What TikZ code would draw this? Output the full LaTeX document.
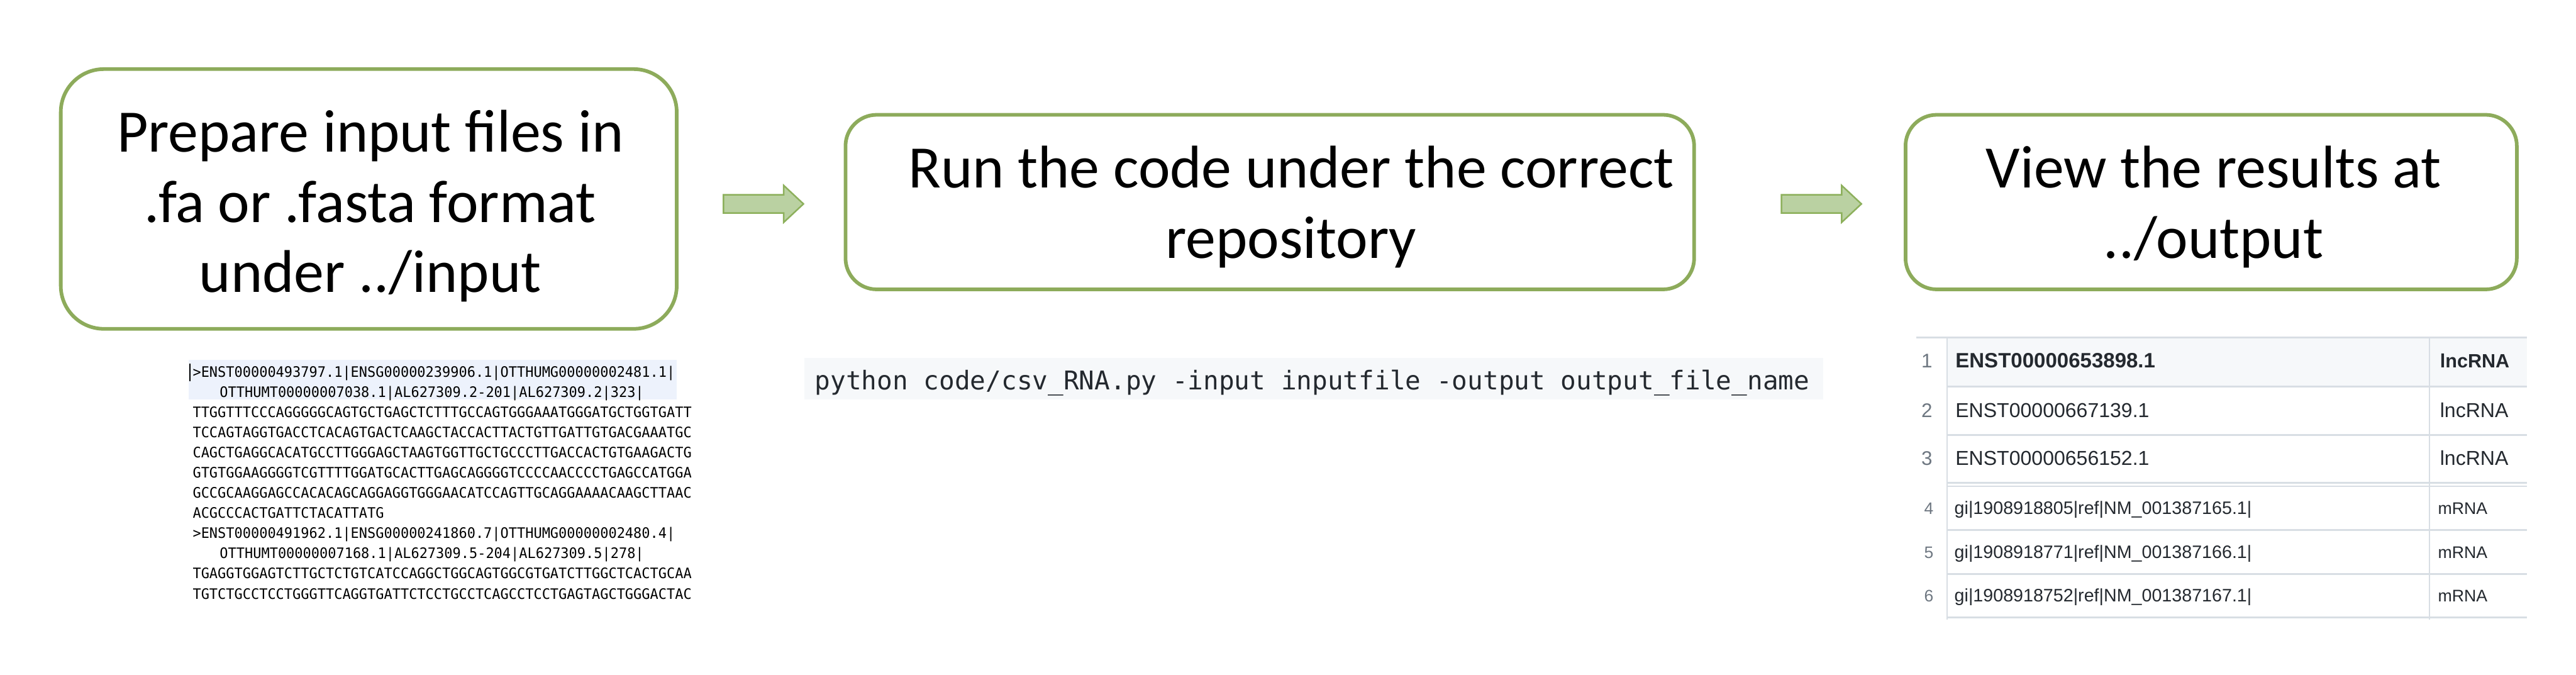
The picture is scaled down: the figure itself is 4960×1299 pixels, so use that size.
\documentclass[tikz,border=0pt]{standalone}
\usepackage{graphicx}
\usepackage{fontspec}
\newfontfamily\carlito{Carlito}
\newfontfamily\dmono{DejaVu Sans Mono}
\newfontfamily\lsans{Liberation Sans}
\definecolor{boxgreen}{RGB}{141,171,91}
\definecolor{arrfill}{RGB}{186,209,162}
\definecolor{arrline}{RGB}{141,176,92}
\definecolor{hl}{RGB}{237,242,252}
\definecolor{codebg}{RGB}{246,248,250}
\definecolor{tline}{RGB}{216,222,228}
\definecolor{ttext}{RGB}{36,41,47}
\definecolor{tnum}{RGB}{110,119,129}
\newcommand{\fx}[1]{\scalebox{0.96}[1]{#1}}
\begin{document}
\begin{tikzpicture}[x=1pt,y=-1pt,
  stepbox/.style={draw=boxgreen, line width=7pt, rounded corners=#1, inner sep=0pt, fill=white},
  boxtxt/.style={anchor=base, inner sep=0pt, font=\carlito\fontsize{116}{135}\selectfont},
  fasta/.style={anchor=base west, inner sep=0pt, font=\dmono\fontsize{27.7}{34}\selectfont, text=black},
  blockarr/.style={fill=arrfill, draw=arrline, line width=3pt, line join=miter},
  tl/.style={draw=tline, line width=3.5pt},
  rowbig/.style={anchor=base west, inner sep=0pt, text=ttext, font=\lsans\fontsize{38.8}{46}\selectfont},
  rowsmall/.style={anchor=base west, inner sep=0pt, text=ttext, font=\lsans\fontsize{34.7}{42}\selectfont},
  numbig/.style={anchor=base, inner sep=0pt, text=tnum, font=\lsans\fontsize{38}{46}\selectfont},
  numsmall/.style={anchor=base, inner sep=0pt, text=tnum, font=\lsans\fontsize{32}{40}\selectfont}
]
\fill[white] (0,0) rectangle (4960,1299);
\useasboundingbox (0,0) rectangle (4960,1299);

% ---- step boxes
\node[stepbox=83pt, minimum width=1186pt, minimum height=500pt] (box1) at (710,383) {};
\node[stepbox=60pt, minimum width=1634pt, minimum height=336pt] (box2) at (2445,389) {};
\node[stepbox=60pt, minimum width=1177pt, minimum height=336pt] (box3) at (4257.5,389) {};

\node[boxtxt] (t1a) at (713,293) {Prepare input files in};
\node[boxtxt] (t1b) at (713,428) {.fa or .fasta format};
\node[boxtxt] (t1c) at (713,563) {under ../input};
\node[boxtxt] (t2a) at (2486,362) {Run the code under the correct};
\node[boxtxt] (t2b) at (2486,497) {repository};
\node[boxtxt] (t3a) at (4262,362) {View the results at};
\node[boxtxt] (t3b) at (4262,497) {../output};

% ---- block arrows
\coordinate (a1) at (1393,392.5);
\coordinate (a2) at (3430,392.5);
\foreach \c in {a1,a2}{
  \draw[blockarr] (\c) ++(0,-17.5) -- ++(116,0) -- ++(0,-18) -- ++(38,35.5)
     -- ++(-38,35.5) -- ++(0,-18) -- ++(-116,0) -- cycle;
}

% ---- FASTA input sample
\node[fill=hl, inner sep=0pt, minimum width=940pt, minimum height=76pt, anchor=north west] (hlband) at (363,693) {};
\draw[black, line width=2pt] (366,700) -- (366,734);
\node[fasta] (f1) at (371,726) {\fx{>ENST00000493797.1|ENSG00000239906.1|OTTHUMG00000002481.1|}};
\node[fasta] (f2) at (423,764.8) {\fx{OTTHUMT00000007038.1|AL627309.2-201|AL627309.2|323|}};
\node[fasta] (f3) at (371,803.6) {\fx{TTGGTTTCCCAGGGGGCAGTGCTGAGCTCTTTGCCAGTGGGAAATGGGATGCTGGTGATT}};
\node[fasta] (f4) at (371,842.4) {\fx{TCCAGTAGGTGACCTCACAGTGACTCAAGCTACCACTTACTGTTGATTGTGACGAAATGC}};
\node[fasta] (f5) at (371,881.2) {\fx{CAGCTGAGGCACATGCCTTGGGAGCTAAGTGGTTGCTGCCCTTGACCACTGTGAAGACTG}};
\node[fasta] (f6) at (371,920.0) {\fx{GTGTGGAAGGGGTCGTTTTGGATGCACTTGAGCAGGGGTCCCCAACCCCTGAGCCATGGA}};
\node[fasta] (f7) at (371,958.8) {\fx{GCCGCAAGGAGCCACACAGCAGGAGGTGGGAACATCCAGTTGCAGGAAAACAAGCTTAAC}};
\node[fasta] (f8) at (371,997.6) {\fx{ACGCCCACTGATTCTACATTATG}};
\node[fasta] (f9) at (371,1036.4) {\fx{>ENST00000491962.1|ENSG00000241860.7|OTTHUMG00000002480.4|}};
\node[fasta] (f10) at (423,1075.2) {\fx{OTTHUMT00000007168.1|AL627309.5-204|AL627309.5|278|}};
\node[fasta] (f11) at (371,1114.0) {\fx{TGAGGTGGAGTCTTGCTCTGTCATCCAGGCTGGCAGTGGCGTGATCTTGGCTCACTGCAA}};
\node[fasta] (f12) at (371,1152.8) {\fx{TGTCTGCCTCCTGGGTTCAGGTGATTCTCCTGCCTCAGCCTCCTGAGTAGCTGGGACTAC}};

% ---- command
\node[fill=codebg, inner sep=0pt, minimum width=1962pt, minimum height=80pt, anchor=north west] (cmdbg) at (1548,689) {};
\node[anchor=base west, inner sep=0pt, text=ttext, font=\dmono\fontsize{49.7}{60}\selectfont] (cmd) at (1569,750)
  {python code/csv\_RNA.py -input inputfile -output output\_file\_name};

% ---- output table
\fill[codebg] (3749,650) rectangle (4865,744);
\draw[tl] (3690,650) -- (4865,650);
\foreach \yy in {744,837,929,936,1020,1105,1189}{
  \draw[tl] (3749,\yy) -- (4865,\yy);
}
\draw[tl, line width=3pt] (3749,650) -- (3749,1193);
\draw[tl, line width=3pt] (4678,650) -- (4678,1193);

\node[numbig] (n1) at (3710,708) {1};
\node[numbig] (n2) at (3710,803) {2};
\node[numbig] (n3) at (3710,895) {3};
\node[numsmall] (n4) at (3714,990) {4};
\node[numsmall] (n5) at (3714,1075) {5};
\node[numsmall] (n6) at (3714,1158) {6};

\node[rowbig, font=\lsans\bfseries\fontsize{40}{46}\selectfont] (r1) at (3765,708) {ENST00000653898.1};
\node[rowbig] (r2) at (3765,803) {ENST00000667139.1};
\node[rowbig] (r3) at (3765,895) {ENST00000656152.1};
\node[rowsmall] (r4) at (3763,990) {gi|1908918805|ref|NM\_001387165.1|};
\node[rowsmall] (r5) at (3763,1075) {gi|1908918771|ref|NM\_001387166.1|};
\node[rowsmall] (r6) at (3763,1158) {gi|1908918752|ref|NM\_001387167.1|};

\node[rowbig, font=\lsans\bfseries\fontsize{37}{46}\selectfont] (c1) at (4698,708) {lncRNA};
\node[rowbig] (c2) at (4698,803) {lncRNA};
\node[rowbig] (c3) at (4698,895) {lncRNA};
\node[rowsmall, font=\lsans\fontsize{32.3}{40}\selectfont] (c4) at (4694,990) {mRNA};
\node[rowsmall, font=\lsans\fontsize{32.3}{40}\selectfont] (c5) at (4694,1075) {mRNA};
\node[rowsmall, font=\lsans\fontsize{32.3}{40}\selectfont] (c6) at (4694,1158) {mRNA};
\end{tikzpicture}
\end{document}
